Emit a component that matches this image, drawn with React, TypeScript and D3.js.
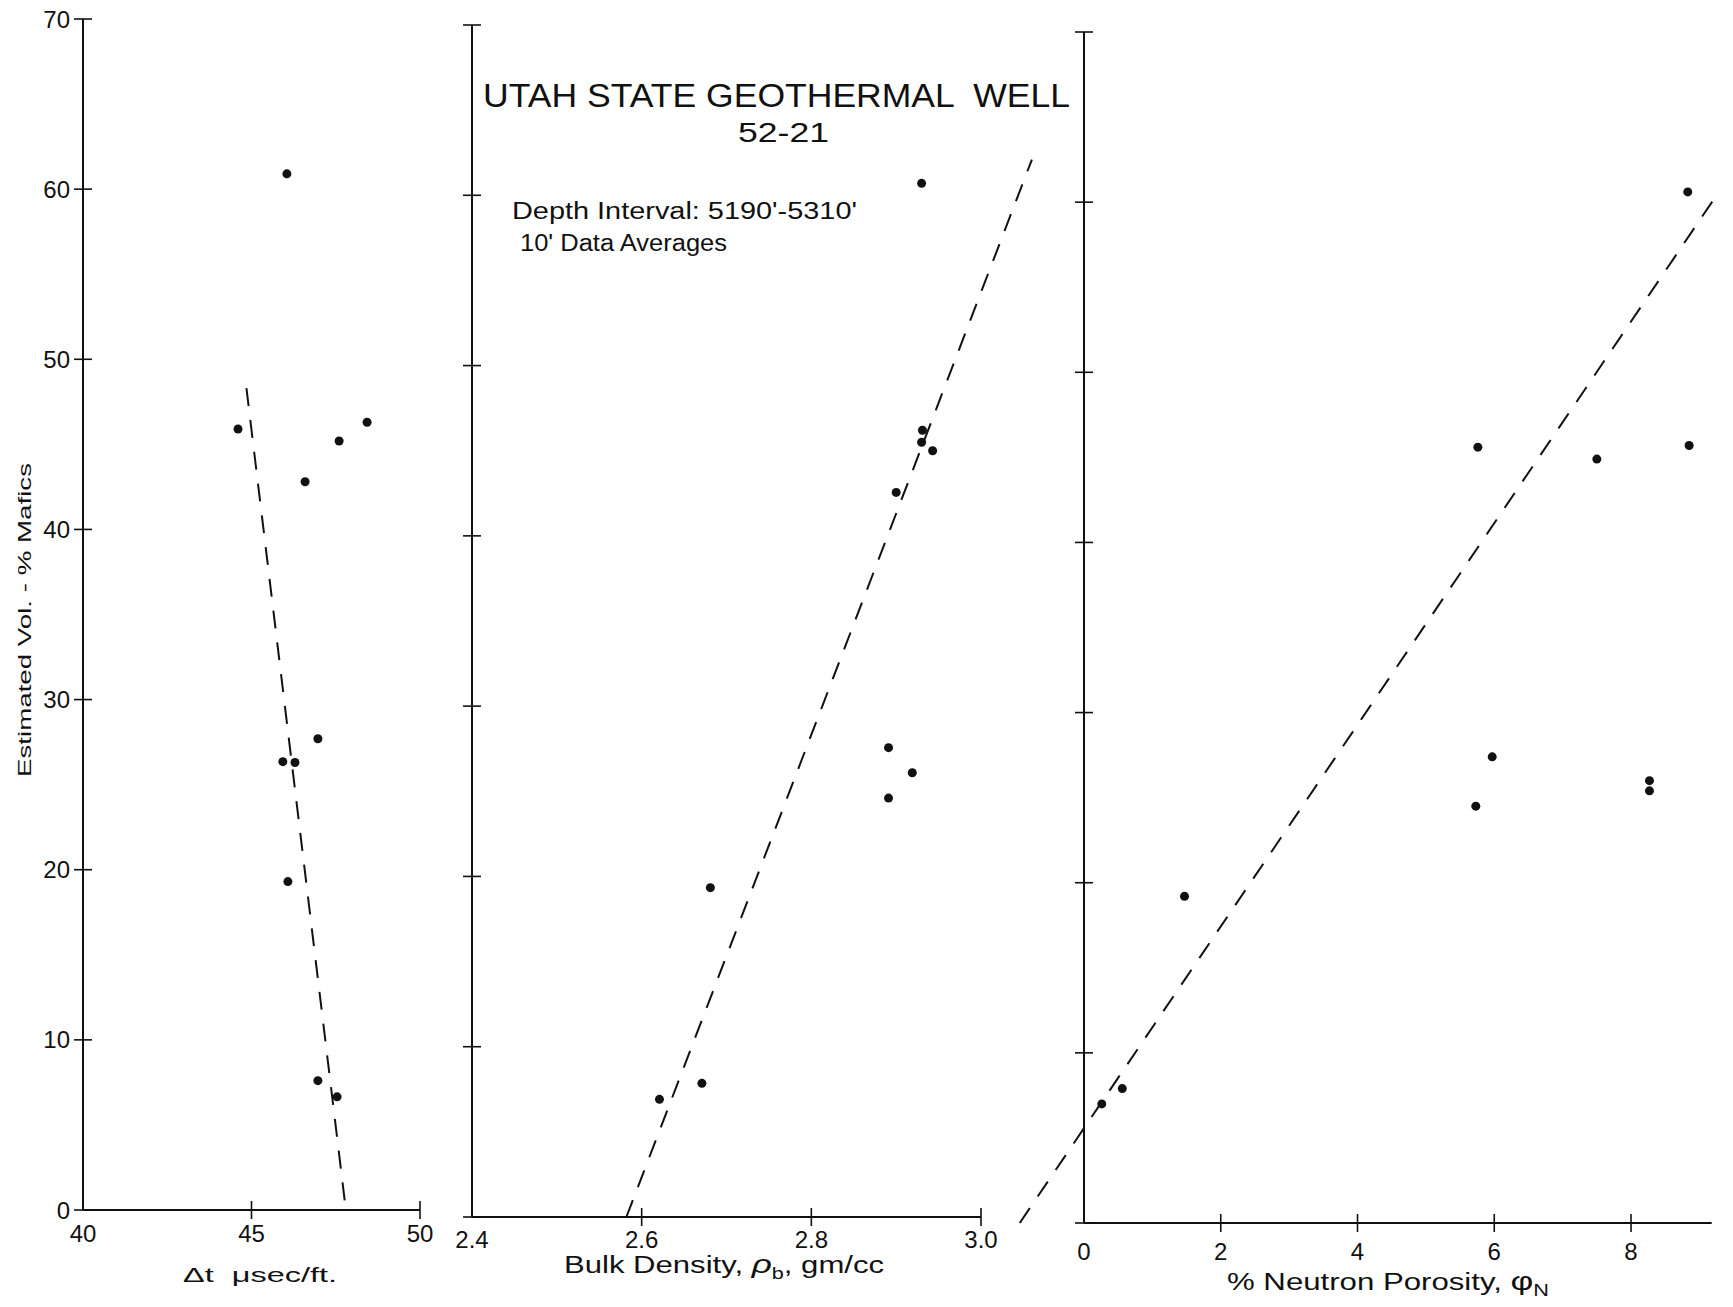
import React from "react";
import * as d3 from "d3";

// ---- data ----
const yTicks = [0, 10, 20, 30, 40, 50, 60, 70];

const acousticTicks = [40, 45, 50];
const acousticX = [46.05, 44.6, 48.43, 47.6, 46.59, 46.97, 45.93, 46.29, 46.08, 46.97, 47.54];
const acousticY = [60.9, 45.9, 46.3, 45.2, 42.8, 27.7, 26.35, 26.3, 19.3, 7.6, 6.65];
const acousticFit = [[44.85, 48.3], [47.8, 0]];

const densityTicks = [2.4, 2.6, 2.8, 3.0];
const densityX = [2.93, 2.931, 2.93, 2.943, 2.9, 2.891, 2.919, 2.891, 2.681, 2.671, 2.621];
const densityY = [60.7, 46.2, 45.5, 45.0, 42.55, 27.56, 26.09, 24.6, 19.34, 7.85, 6.91];
const densityFit = [[2.582, 0], [3.06, 62.1]];

const neutronTicks = [0, 2, 4, 6, 8];
const neutronX = [8.83, 5.76, 8.85, 7.5, 5.97, 8.27, 8.27, 5.73, 1.47, 0.56, 0.26];
const neutronY = [60.6, 45.6, 45.7, 44.9, 27.4, 26.0, 25.4, 24.5, 19.2, 7.9, 7.0];
const neutronFit = [[-0.94, 0], [9.2, 60.1]];

const INK = "#111";
const FONT = "'Liberation Sans', 'DejaVu Sans', sans-serif";

type PanelProps = {
  xDomain: [number, number];
  xRange: [number, number];
  yRange: [number, number];
  xTicks: number[];
  xTickFmt: (v: number) => string;
  labelY: number;
  showYLabels: boolean;
  xs: number[];
  ys: number[];
  fit: number[][];
};

function Panel(p: PanelProps) {
  const x = d3.scaleLinear().domain(p.xDomain).range(p.xRange);
  const y = d3.scaleLinear().domain([0, 70]).range(p.yRange);
  const x0 = x(p.xDomain[0]);
  const y0 = y(0);
  const line = d3
    .line<number[]>()
    .x((d) => x(d[0]))
    .y((d) => y(d[1]));
  return (
    <g>
      <line x1={x0} x2={x0} y1={y(70)} y2={y0} stroke={INK} strokeWidth={2} />
      <line x1={x0} x2={p.xRange[1]} y1={y0} y2={y0} stroke={INK} strokeWidth={2} />
      {yTicks.map((t) => (
        <g key={"yt" + t}>
          <line x1={x0 - 9} x2={x0 + 9} y1={y(t)} y2={y(t)} stroke={INK} strokeWidth={1.6} />
          {p.showYLabels && (
            <text
              x={x0 - 13}
              y={y(t)}
              textAnchor="end"
              dominantBaseline="central"
              fontSize={24}
              fontFamily={FONT}
              fill={INK}
            >
              {t}
            </text>
          )}
        </g>
      ))}
      {p.xTicks.map((t) => (
        <g key={"xt" + t}>
          {t !== p.xDomain[0] && (
            <line x1={x(t)} x2={x(t)} y1={y0 - 9} y2={y0 + 9} stroke={INK} strokeWidth={1.6} />
          )}
          <text
            x={x(t)}
            y={p.labelY}
            textAnchor="middle"
            fontSize={24}
            fontFamily={FONT}
            fill={INK}
          >
            {p.xTickFmt(t)}
          </text>
        </g>
      ))}
      <path d={line(p.fit) || ""} fill="none" stroke={INK} strokeWidth={2} strokeDasharray="18,14" />
      {p.xs.map((v, i) => (
        <circle key={"pt" + i} cx={x(v)} cy={y(p.ys[i])} r={4.5} fill={INK} />
      ))}
    </g>
  );
}

export default function App() {
  return (
    <svg
      width={1733}
      height={1307}
      style={{ position: "absolute", left: 0, top: 0, background: "#fff" }}
    >
      <rect x={0} y={0} width={1733} height={1307} fill="#fff" />
      <Panel
        xDomain={[40, 50]}
        xRange={[83, 420]}
        yRange={[1210, 19]}
        xTicks={acousticTicks}
        xTickFmt={(v) => String(v)}
        labelY={1242}
        showYLabels={true}
        xs={acousticX}
        ys={acousticY}
        fit={acousticFit}
      />
      <Panel
        xDomain={[2.4, 3.0]}
        xRange={[472, 981]}
        yRange={[1217, 25]}
        xTicks={densityTicks}
        xTickFmt={(v) => v.toFixed(1)}
        labelY={1248}
        showYLabels={false}
        xs={densityX}
        ys={densityY}
        fit={densityFit}
      />
      <Panel
        xDomain={[0, 9.18]}
        xRange={[1084, 1711.7]}
        yRange={[1223, 32]}
        xTicks={neutronTicks}
        xTickFmt={(v) => String(v)}
        labelY={1260}
        showYLabels={false}
        xs={neutronX}
        ys={neutronY}
        fit={neutronFit}
      />

      <text
        x={483}
        y={107}
        fontSize={33}
        fontFamily={FONT}
        fill={INK}
        textLength={587}
        lengthAdjust="spacingAndGlyphs"
        style={{ whiteSpace: "pre" }}
      >
        {"UTAH STATE GEOTHERMAL  WELL"}
      </text>
      <text x={738} y={142} fontSize={28} fontFamily={FONT} fill={INK} textLength={91} lengthAdjust="spacingAndGlyphs">
        52-21
      </text>
      <text x={512} y={219} fontSize={23} fontFamily={FONT} fill={INK} textLength={345} lengthAdjust="spacingAndGlyphs">
        Depth Interval: 5190'-5310'
      </text>
      <text x={520} y={251} fontSize={23} fontFamily={FONT} fill={INK} textLength={207} lengthAdjust="spacingAndGlyphs">
        10' Data Averages
      </text>

      <text
        transform="translate(31,620) rotate(-90)"
        textAnchor="middle"
        fontSize={19}
        fontFamily={FONT}
        fill={INK}
        textLength={314}
        lengthAdjust="spacingAndGlyphs"
      >
        Estimated Vol. - % Mafics
      </text>

      <text x={183} y={1282} fontSize={21} fontFamily={FONT} fill={INK} textLength={154} lengthAdjust="spacingAndGlyphs" style={{ whiteSpace: "pre" }}>
        {"Δt  μsec/ft."}
      </text>
      <text x={564} y={1273} fontSize={23} fontFamily={FONT} fill={INK} textLength={320} lengthAdjust="spacingAndGlyphs">
        <tspan>Bulk Density, </tspan>
        <tspan fontStyle="italic" fontSize={26}>ρ</tspan>
        <tspan fontSize={16} dy={6}>b</tspan>
        <tspan dy={-6}>, gm/cc</tspan>
      </text>
      <text x={1227} y={1290} fontSize={23} fontFamily={FONT} fill={INK} textLength={322} lengthAdjust="spacingAndGlyphs">
        <tspan>% Neutron Porosity, </tspan>
        <tspan fontSize={26}>φ</tspan>
        <tspan fontSize={16} dy={6}>N</tspan>
      </text>
    </svg>
  );
}
